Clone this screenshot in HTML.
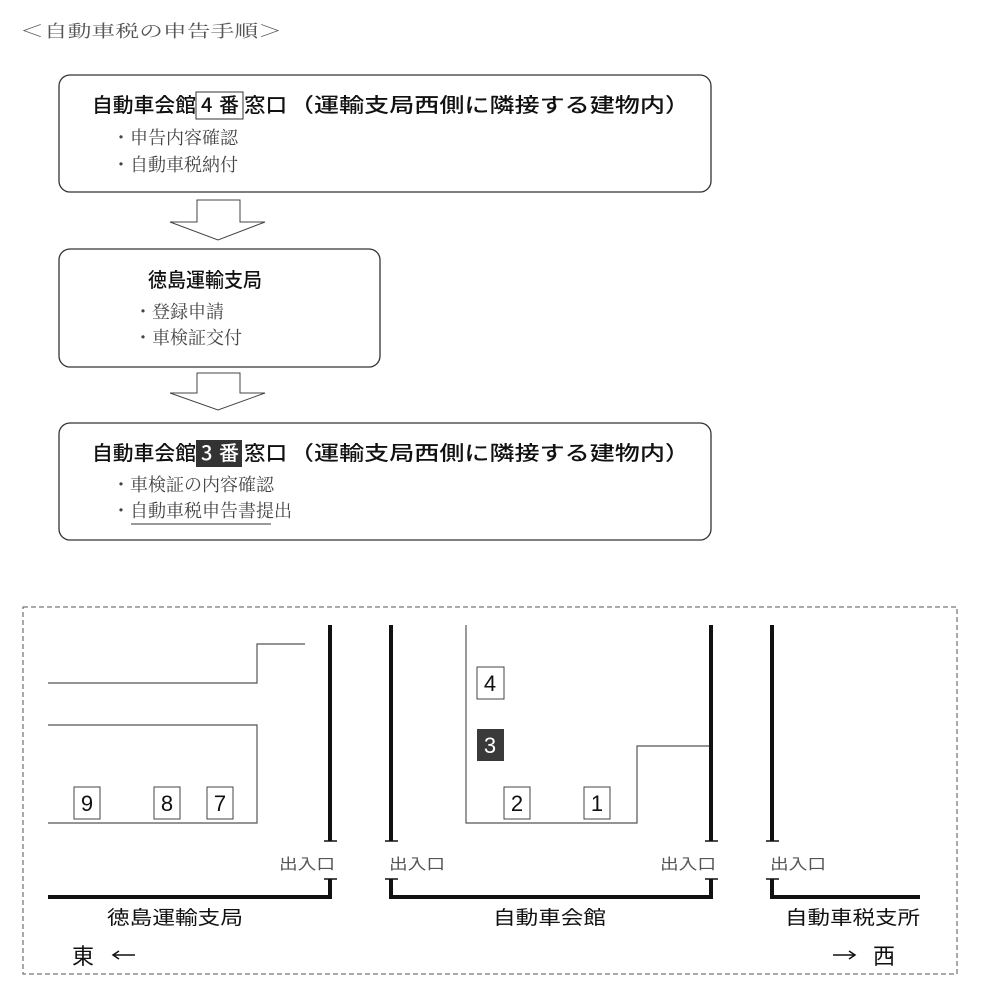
<!DOCTYPE html>
<html><head><meta charset="utf-8"><style>
html,body{margin:0;padding:0;background:#fff;}
svg{display:block;}
.g{font-family:"Liberation Sans","Noto Sans CJK JP",sans-serif;}
.s{font-family:"Liberation Serif","Noto Serif CJK SC",serif;}
.h{font-family:"Noto Sans CJK JP",sans-serif;font-weight:500;font-size:20px;fill:#111;}
</style></head><body>
<svg width="982" height="1000" viewBox="0 0 982 1000" xmlns="http://www.w3.org/2000/svg">
<text x="20" y="37" class="s" font-size="17" fill="#555" textLength="262" lengthAdjust="spacingAndGlyphs">＜自動車税の申告手順＞</text>

<!-- box1 -->
<rect x="59" y="75" width="652" height="117" rx="11" fill="none" stroke="#333" stroke-width="1.3"/>
<text x="92" y="112" class="h" textLength="104" lengthAdjust="spacingAndGlyphs">自動車会館</text>
<rect x="196" y="92" width="47" height="27" fill="none" stroke="#333" stroke-width="1"/>
<text x="201" y="112" class="h">4</text>
<text x="219" y="112" class="h">番</text>
<text x="244" y="112" class="h" textLength="43" lengthAdjust="spacingAndGlyphs">窓口</text>
<text x="289" y="112" class="h" textLength="401" lengthAdjust="spacingAndGlyphs">（運輸支局西側に隣接する建物内）</text>
<text x="112" y="144" class="s" font-size="18" fill="#444">・申告内容確認</text>
<text x="112" y="171" class="s" font-size="18" fill="#444">・自動車税納付</text>

<!-- arrow1 -->
<polygon points="197,200 240,200 240,222 265,222 218,240 170,222 197,222" fill="#fff" stroke="#444" stroke-width="1"/>

<!-- box2 -->
<rect x="59" y="249" width="321" height="118" rx="11" fill="none" stroke="#333" stroke-width="1.3"/>
<text x="148" y="287" class="h" textLength="114" lengthAdjust="spacingAndGlyphs">徳島運輸支局</text>
<text x="134" y="318" class="s" font-size="18" fill="#444">・登録申請</text>
<text x="134" y="344" class="s" font-size="18" fill="#444">・車検証交付</text>

<!-- arrow2 -->
<polygon points="197,373 240,373 240,393 265,393 218,410 170,393 197,393" fill="#fff" stroke="#444" stroke-width="1"/>

<!-- box3 -->
<rect x="59" y="423" width="652" height="117" rx="11" fill="none" stroke="#333" stroke-width="1.3"/>
<text x="92" y="460" class="h" textLength="104" lengthAdjust="spacingAndGlyphs">自動車会館</text>
<rect x="196" y="440" width="46" height="27" fill="#333"/>
<text x="201" y="460" class="h" style="fill:#fff">3</text>
<text x="219" y="460" class="h" style="fill:#fff">番</text>
<text x="244" y="460" class="h" textLength="43" lengthAdjust="spacingAndGlyphs">窓口</text>
<text x="289" y="460" class="h" textLength="401" lengthAdjust="spacingAndGlyphs">（運輸支局西側に隣接する建物内）</text>
<text x="112" y="491" class="s" font-size="18" fill="#444">・車検証の内容確認</text>
<text x="112" y="517" class="s" font-size="18" fill="#444">・自動車税申告書提出</text>
<line x1="131" y1="524" x2="271" y2="524" stroke="#333" stroke-width="1"/>

<!-- map -->
<rect x="23" y="607" width="934" height="367" fill="none" stroke="#555" stroke-width="1" stroke-dasharray="5,3"/>
<g fill="none" stroke="#555" stroke-width="1.2">
<polyline points="48,683 257,683 257,644 305,644"/>
<polyline points="48,725 257,725 257,823 48,823"/>
<polyline points="466,625 466,823 637,823 637,746 711,746"/>
</g>
<g fill="none" stroke="#111" stroke-width="4">
<line x1="330" y1="625" x2="330" y2="841"/>
<polyline points="330,879 330,897 48,897"/>
<line x1="391" y1="625" x2="391" y2="841"/>
<polyline points="391,879 391,897 711,897 711,879"/>
<line x1="711" y1="625" x2="711" y2="841"/>
<line x1="772" y1="625" x2="772" y2="841"/>
<polyline points="772,879 772,897 920,897"/>
</g>
<g stroke="#111" stroke-width="1.5">
<line x1="324" y1="841" x2="337" y2="841"/><line x1="324" y1="879" x2="337" y2="879"/>
<line x1="385" y1="841" x2="398" y2="841"/><line x1="385" y1="879" x2="398" y2="879"/>
<line x1="705" y1="841" x2="718" y2="841"/><line x1="705" y1="879" x2="718" y2="879"/>
<line x1="766" y1="841" x2="779" y2="841"/><line x1="766" y1="879" x2="779" y2="879"/>
</g>
<g class="g" font-size="15" fill="#555">
<text x="279" y="869" textLength="56" lengthAdjust="spacingAndGlyphs">出入口</text>
<text x="389" y="869" textLength="56" lengthAdjust="spacingAndGlyphs">出入口</text>
<text x="660" y="869" textLength="56" lengthAdjust="spacingAndGlyphs">出入口</text>
<text x="770" y="869" textLength="56" lengthAdjust="spacingAndGlyphs">出入口</text>
</g>
<g fill="#fff" stroke="#444" stroke-width="1">
<rect x="74" y="787" width="26" height="32"/><rect x="154" y="787" width="26" height="32"/><rect x="207" y="787" width="26" height="32"/>
<rect x="477" y="667" width="27" height="32"/><rect x="504" y="787" width="26" height="32"/><rect x="584" y="787" width="26" height="32"/>
</g>
<rect x="477" y="729" width="27" height="32" fill="#3a3a3a"/>
<g class="g" font-size="22" fill="#111" text-anchor="middle">
<text x="87" y="811">9</text><text x="167" y="811">8</text><text x="220" y="811">7</text>
<text x="490" y="691">4</text><text x="490" y="753" fill="#fff">3</text>
<text x="517" y="811">2</text><text x="597" y="811">1</text>
</g>
<g class="g" font-size="19" fill="#111">
<text x="107" y="924" textLength="136" lengthAdjust="spacingAndGlyphs">徳島運輸支局</text>
<text x="493" y="924" textLength="113" lengthAdjust="spacingAndGlyphs">自動車会館</text>
<text x="785" y="924" textLength="135" lengthAdjust="spacingAndGlyphs">自動車税支所</text>
<text x="72" y="964" font-size="22">東</text>
<text x="873" y="964" font-size="22">西</text>
</g>
<g stroke="#111" stroke-width="1.5" fill="none">
<line x1="113" y1="955" x2="135" y2="955"/><polyline points="119,951 113,955 119,959"/>
<line x1="833" y1="955" x2="855" y2="955"/><polyline points="849,951 855,955 849,959"/>
</g>
</svg>
</body></html>
